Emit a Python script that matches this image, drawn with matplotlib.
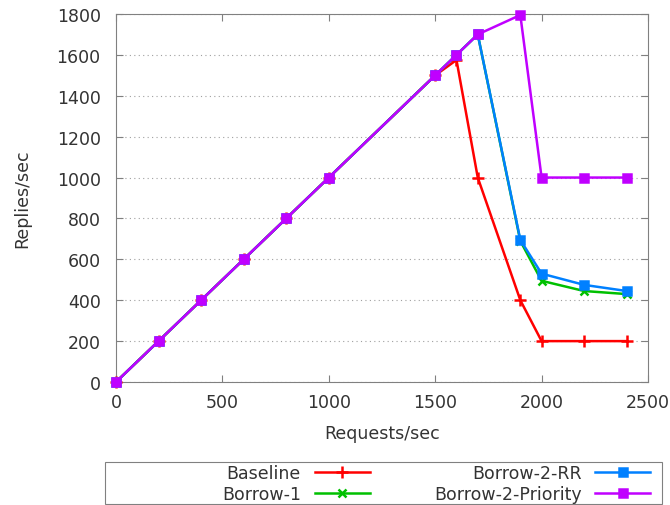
import matplotlib.pyplot as plt
from matplotlib.patches import Rectangle

# ─── Data ─────────────────────────────────────────────────────────────────────
requests = [0, 200, 400, 600, 800, 1000, 1500, 1600, 1700, 1900, 2000, 2200, 2400]
baseline = [0, 200, 400, 600, 800, 1000, 1500, 1575, 1000, 400, 200, 200, 200]
borrow1 = [0, 200, 400, 600, 800, 1000, 1500, 1600, 1700, 690, 495, 445, 430]
borrow2_rr = [0, 200, 400, 600, 800, 1000, 1500, 1600, 1700, 695, 530, 475, 445]
borrow2_prio = [0, 200, 400, 600, 800, 1000, 1500, 1600, 1700, 1795, 1000, 1000, 1000]

SERIES = [
    ("Baseline", baseline, "#ff0000", "+", 9),
    ("Borrow-1", borrow1, "#00c000", "x", 6),
    ("Borrow-2-RR", borrow2_rr, "#0080ff", "s", 6),
    ("Borrow-2-Priority", borrow2_prio, "#c000ff", "s", 6),
]

FS = 12.5
TXT = "#333333"

plt.rcParams["font.family"] = "DejaVu Sans"
fig = plt.figure(figsize=(6.7, 5.06), dpi=100)
ax = fig.add_axes([116 / 670, 1 - 383 / 506, 532 / 670, 368 / 506])

for label, ys, color, marker, ms in SERIES:
    ax.plot(requests, ys, color=color, lw=1.8, marker=marker, ms=ms,
            mew=1.8, label=label, clip_on=False, zorder=3)

ax.set_xlim(0, 2500)
ax.set_ylim(0, 1800)
ax.set_xticks(range(0, 2501, 500))
ax.set_yticks(range(0, 1801, 200))
ax.grid(axis="y", color="#a0a0a0", linestyle=(0, (1, 3)), lw=0.8)
ax.tick_params(direction="in", top=True, right=True, length=5,
               labelsize=FS, colors="#808080", labelcolor=TXT)
ax.tick_params(axis="x", pad=8)
ax.tick_params(axis="y", pad=11)
for s in ax.spines.values():
    s.set_color("#808080")
    s.set_linewidth(0.8)

ax.set_xlabel("Requests/sec", fontsize=FS, color=TXT, labelpad=9)
ax.set_ylabel("Replies/sec", fontsize=FS, color=TXT, labelpad=18)

# legend below, gnuplot style: text then sample
handles, labels = ax.get_legend_handles_labels()
leg = fig.legend(handles, labels, ncol=2, markerfirst=False, frameon=False,
                 loc="center right", bbox_to_anchor=(650 / 670, 1 - 484.5 / 506),
                 fontsize=FS, handlelength=3.15, handletextpad=0.8,
                 columnspacing=3.7, labelspacing=0.22, borderpad=0,
                 borderaxespad=0)
for t in leg.get_texts():
    t.set_color(TXT)
fig.patches.append(Rectangle((105 / 670, 1 / 506), 557 / 670, 42 / 506,
                             transform=fig.transFigure, fill=False,
                             edgecolor="#808080", lw=0.8))

plt.savefig("out.png", dpi=100)
